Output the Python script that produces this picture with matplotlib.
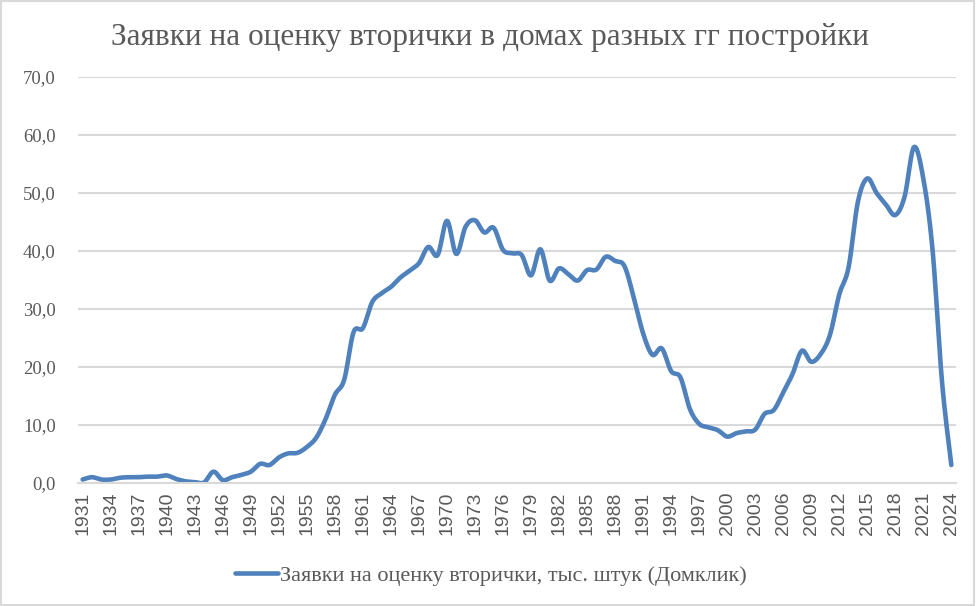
import numpy as np
import matplotlib
matplotlib.use("Agg")
import matplotlib.pyplot as plt
from matplotlib.patches import Rectangle

# данные: год постройки -> заявки, тыс. штук
years = list(range(1931, 2025))
values = [
    0.6, 1.0, 0.6, 0.6, 0.9, 1.0, 1.0, 1.1, 1.1, 1.3,  # 1931-1940
    0.7, 0.3, 0.15, 0.1, 1.95, 0.5, 1.0, 1.4, 1.95, 3.3,  # 1941-1950
    3.1, 4.4, 5.1, 5.2, 6.2, 7.8, 11.0, 15.2, 17.8, 26.0,  # 1951-1960
    26.7, 31.2, 32.7, 33.8, 35.4, 36.6, 37.9, 40.7, 39.3, 45.2,  # 1961-1970
    39.5, 44.2, 45.3, 43.2, 44.0, 40.2, 39.6, 39.3, 35.8, 40.3,  # 1971-1980
    34.9, 37.0, 36.0, 34.9, 36.7, 36.8, 39.0, 38.3, 37.4, 32.0,  # 1981-1990
    25.8, 22.1, 23.2, 19.3, 18.2, 12.8, 10.2, 9.6, 9.1, 8.0,  # 1991-2000
    8.6, 8.9, 9.2, 11.9, 12.6, 15.6, 18.8, 22.8, 20.9, 22.2,  # 2001-2010
    25.5, 32.5, 37.2, 48.5, 52.5, 50.0, 48.0, 46.2, 49.4, 57.9,  # 2011-2020
    52.5, 40.0, 17.5, 3.1,  # 2021-2024
]
tick_years = years[::3]
y_ticks = [0, 10, 20, 30, 40, 50, 60, 70]

title = "Заявки на оценку вторички в домах разных гг постройки"
series_name = "Заявки на оценку вторички, тыс. штук (Домклик)"

line_color = "#4F81BD"
text_color = "#595959"
grid_color = "#D9D9D9"


def excel_smooth(xs, ys, n=24):
    # Catmull-Rom как кривые Безье (сглаженная линия Excel)
    p = np.column_stack([xs, ys]).astype(float)
    p_ext = np.vstack([p[0], p, p[-1]])
    out = []
    for i in range(len(p) - 1):
        p0, p1, p2, p3 = p_ext[i], p_ext[i + 1], p_ext[i + 2], p_ext[i + 3]
        c1 = p1 + (p2 - p0) / 6
        c2 = p2 - (p3 - p1) / 6
        t = np.linspace(0, 1, n, endpoint=(i == len(p) - 2))[:, None]
        seg = ((1 - t) ** 3) * p1 + 3 * ((1 - t) ** 2) * t * c1 + 3 * (1 - t) * t ** 2 * c2 + t ** 3 * p2
        out.append(seg)
    out = np.vstack(out)
    return out[:, 0], out[:, 1]


idx = np.arange(len(years))
sx, sy = excel_smooth(idx, values)

fig = plt.figure(figsize=(9.76, 6.06), dpi=100)
ax = fig.add_axes([78 / 976, 1 - 483 / 606, (956 - 78) / 976, (483 - 77) / 606])

ax.plot(sx, sy, color=line_color, lw=3.3, solid_capstyle="round",
        solid_joinstyle="round", label=series_name)

ax.set_xlim(-0.5, len(years) - 0.5)
ax.set_ylim(0, 70)
ax.set_yticks(y_ticks)
ax.set_yticklabels([f"{v:.1f}".replace(".", ",") for v in y_ticks],
                   family="Liberation Serif", fontsize=13.5, color=text_color)
tick_pos = [years.index(y) for y in tick_years]
ax.set_xticks(tick_pos)
ax.set_xticklabels([str(y) for y in tick_years], rotation=90,
                   family="Liberation Sans", fontsize=14, color=text_color)
ax.tick_params(axis="y", length=0, pad=16)
ax.tick_params(axis="x", length=0, pad=6)

ax.grid(axis="y", color=grid_color, lw=1.5)
ax.set_axisbelow(True)
for s in ["top", "right", "left"]:
    ax.spines[s].set_visible(False)
ax.spines["bottom"].set_color(grid_color)
ax.spines["bottom"].set_linewidth(1.5)

fig.text(0.502, 1 - 38 / 606, title, ha="center", va="center",
         family="Liberation Serif", fontsize=22.5, color=text_color)

fig.legend(loc="center", bbox_to_anchor=(0.503, 1 - 576 / 606), frameon=False,
           prop={"family": "Liberation Serif", "size": 16},
           labelcolor=text_color, handlelength=1.95, handletextpad=0.1)

fig.patches.append(Rectangle((0.001, 0.001), 0.997, 0.997, transform=fig.transFigure,
                             fill=False, edgecolor=grid_color, lw=1.5))

fig.savefig("out.png", dpi=100)
